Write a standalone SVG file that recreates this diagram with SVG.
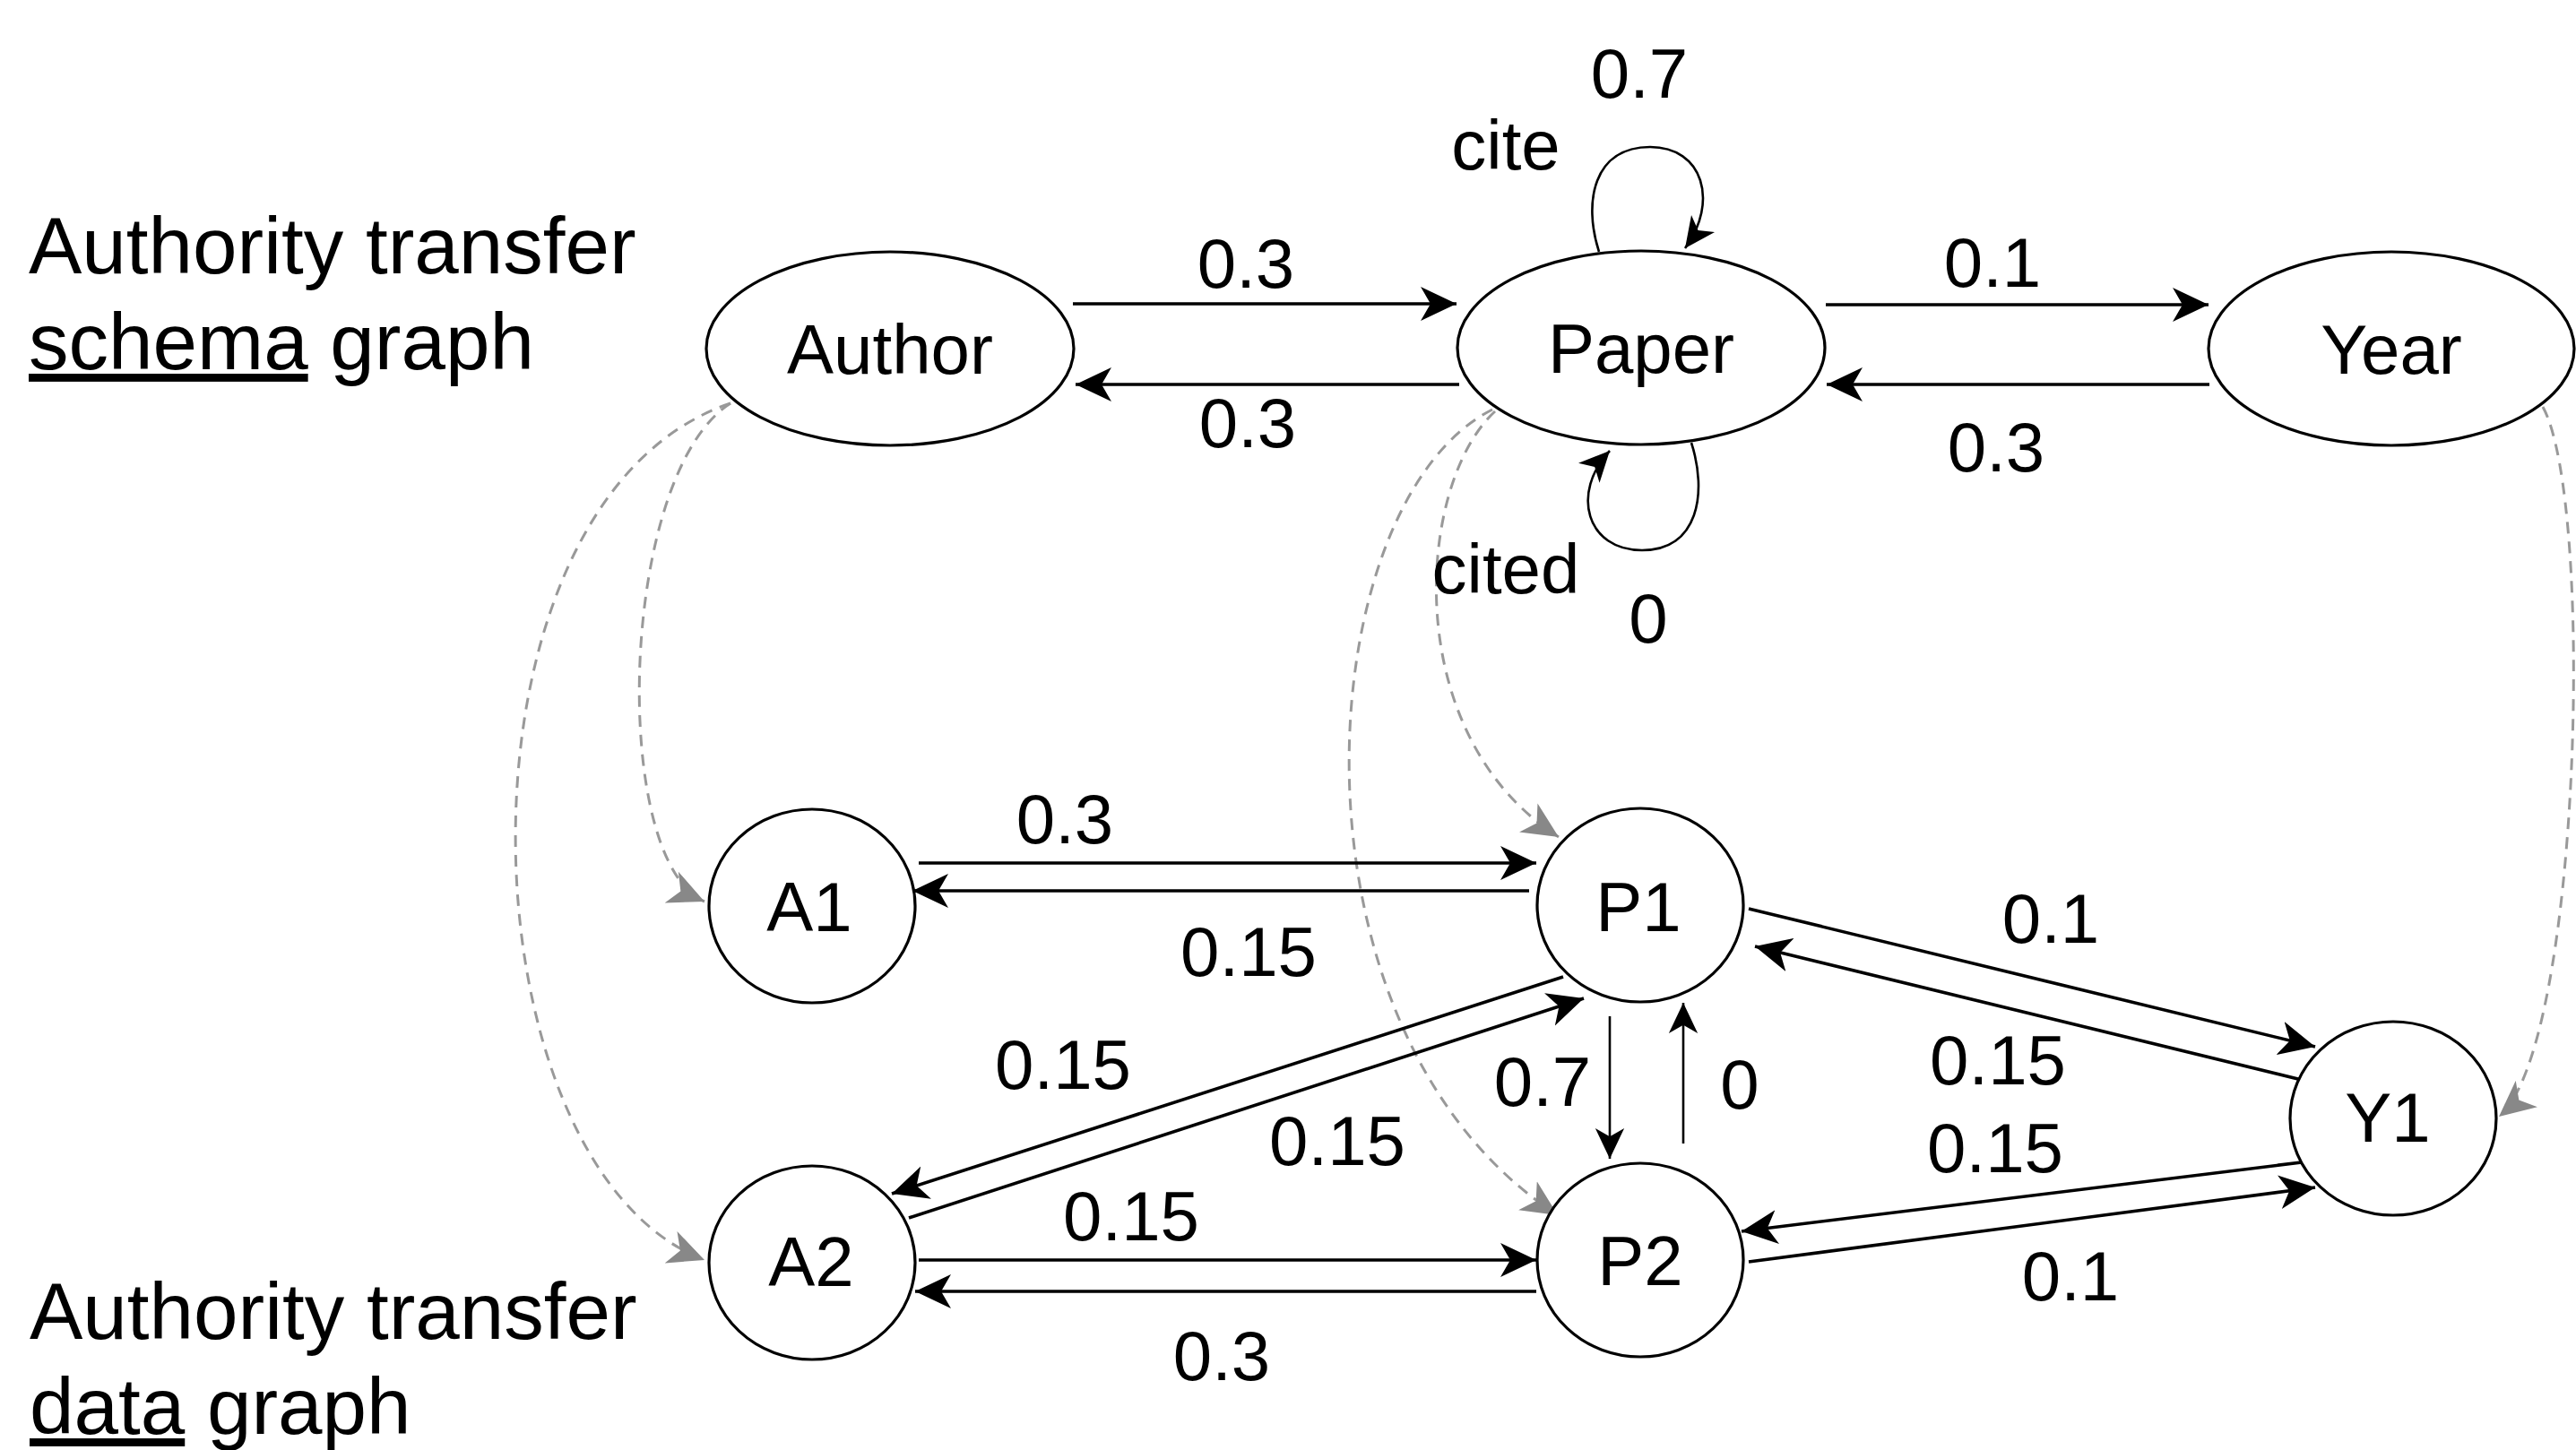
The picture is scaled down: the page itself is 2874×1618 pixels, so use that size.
<svg xmlns="http://www.w3.org/2000/svg" width="2874" height="1618" viewBox="0 0 2874 1618">
<style>
.node{fill:#fff;stroke:#000;stroke-width:3.2}
.lbl{font-family:"Liberation Sans",Arial,Helvetica,sans-serif;font-size:78px;fill:#000;text-anchor:middle}
.cap{font-family:"Liberation Sans",Arial,Helvetica,sans-serif;font-size:89px;fill:#000}
.e{fill:none;stroke:#000;stroke-width:3.6;marker-end:url(#ah)}
.t{fill:none;stroke:#000;stroke-width:2.6;marker-end:url(#as)}
.d{fill:none;stroke:#999;stroke-width:3;stroke-dasharray:13 9;marker-end:url(#ag)}
</style>
<defs>
<marker id="ah" markerUnits="userSpaceOnUse" viewBox="0 0 40 40" markerWidth="40" markerHeight="40" refX="40" refY="20" orient="auto">
<path d="M0,1 L40,20 L0,39 L11,20 Z" fill="#000"/>
</marker>
<marker id="as" markerUnits="userSpaceOnUse" viewBox="0 0 40 40" markerWidth="34" markerHeight="34" refX="40" refY="20" orient="auto">
<path d="M0,1 L40,20 L0,39 L11,20 Z" fill="#000"/>
</marker>
<marker id="ag" markerUnits="userSpaceOnUse" viewBox="0 0 40 40" markerWidth="40" markerHeight="40" refX="40" refY="20" orient="auto">
<path d="M0,1 L40,20 L0,39 L11,20 Z" fill="#888"/>
</marker>
</defs>

<g id="labels">
<text class="cap" x="32" y="305">Authority transfer</text>
<text class="cap" x="32" y="412"><tspan text-decoration="underline">schema</tspan> graph</text>
<text class="cap" x="33" y="1494">Authority transfer</text>
<text class="cap" x="33" y="1600"><tspan text-decoration="underline">data</tspan> graph</text>
</g>

<g id="connectors">
<path class="d" d="M815,450 C690,530 680,960 786,1006"/>
<path class="d" d="M815,450 C490,560 510,1300 786,1406"/>
<path class="d" d="M1668,459 C1580,540 1560,820 1739,934"/>
<path class="d" d="M1665,457 C1460,560 1420,1150 1738,1356"/>
<path class="d" d="M2837,454 C2895,560 2880,1170 2788,1246"/>

<path class="e" d="M1197,339 L1625,339"/>
<path class="e" d="M1628,429 L1200,429"/>
<path class="e" d="M2037,340 L2464,340"/>
<path class="e" d="M2465,429 L2038,429"/>
<path class="t" d="M1784,281 C1766,225 1778,164 1841,164 C1900,164 1918,225 1880,277"/>
<path class="t" d="M1887,494 C1905,550 1895,614 1832,614 C1770,614 1752,550 1796,503"/>

<path class="e" d="M1025,963 L1714,963"/>
<path class="e" d="M1706,994 L1018,994"/>
<path class="e" d="M1744,1090 L995,1332"/>
<path class="e" d="M1014,1359 L1767,1114"/>
<path class="e" d="M1025,1406 L1714,1406"/>
<path class="e" d="M1714,1441 L1021,1441"/>
<path class="t" d="M1796,1134 L1796,1293"/>
<path class="t" d="M1878,1276 L1878,1119"/>
<path class="e" d="M1951,1014 L2583,1168"/>
<path class="e" d="M2576,1207 L1958,1056"/>
<path class="e" d="M2576,1296 L1943,1374"/>
<path class="e" d="M1951,1408 L2583,1325"/>

<text class="lbl" x="1390" y="321">0.3</text>
<text class="lbl" x="1392" y="499">0.3</text>
<text class="lbl" x="2223" y="320">0.1</text>
<text class="lbl" x="2227" y="526">0.3</text>
<text class="lbl" x="1829" y="109">0.7</text>
<text class="lbl" x="1680" y="189">cite</text>
<text class="lbl" x="1680" y="662">cited</text>
<text class="lbl" x="1839" y="717">0</text>
<text class="lbl" x="1188" y="941">0.3</text>
<text class="lbl" x="1393" y="1089">0.15</text>
<text class="lbl" x="1186" y="1215">0.15</text>
<text class="lbl" x="1492" y="1300">0.15</text>
<text class="lbl" x="1262" y="1384">0.15</text>
<text class="lbl" x="1363" y="1540">0.3</text>
<text class="lbl" x="1721" y="1234">0.7</text>
<text class="lbl" x="1941" y="1237">0</text>
<text class="lbl" x="2288" y="1052">0.1</text>
<text class="lbl" x="2229" y="1210">0.15</text>
<text class="lbl" x="2226" y="1308">0.15</text>
<text class="lbl" x="2310" y="1451">0.1</text>
</g>

<g id="node-author"><ellipse class="node" cx="993" cy="389" rx="205" ry="108"/><text class="lbl" x="993" y="417">Author</text></g>
<g id="node-paper"><ellipse class="node" cx="1831" cy="388" rx="205" ry="108"/><text class="lbl" x="1831" y="416">Paper</text></g>
<g id="node-year"><ellipse class="node" cx="2668" cy="389" rx="204" ry="108"/><text class="lbl" x="2668" y="417">Year</text></g>
<g id="node-a1"><ellipse class="node" cx="906" cy="1011" rx="115" ry="108"/><text class="lbl" x="903" y="1039">A1</text></g>
<g id="node-p1"><ellipse class="node" cx="1830" cy="1010" rx="115" ry="108"/><text class="lbl" x="1828" y="1039">P1</text></g>
<g id="node-a2"><ellipse class="node" cx="906" cy="1409" rx="115" ry="108"/><text class="lbl" x="905" y="1435">A2</text></g>
<g id="node-p2"><ellipse class="node" cx="1830" cy="1406" rx="115" ry="108"/><text class="lbl" x="1830" y="1434">P2</text></g>
<g id="node-y1"><ellipse class="node" cx="2670" cy="1248" rx="115" ry="108"/><text class="lbl" x="2664" y="1274">Y1</text></g>
</svg>
